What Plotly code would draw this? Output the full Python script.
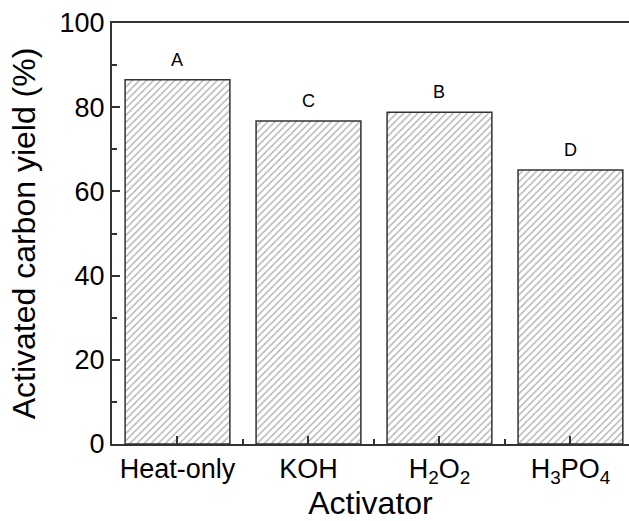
import plotly.graph_objects as go

categories = ["Heat-only", "KOH", "H<sub>2</sub>O<sub>2</sub>", "H<sub>3</sub>PO<sub>4</sub>"]
yields = [86.5, 76.7, 78.8, 65.1]
letters = ["A", "C", "B", "D"]
y_ticks = [0, 20, 40, 60, 80, 100]

xpos = list(range(len(categories)))
FONT = "Liberation Sans, Arial, Helvetica, sans-serif"

fig = go.Figure()
fig.add_trace(go.Bar(
    x=xpos, y=yields, width=0.8,
    marker=dict(
        color="white",
        line=dict(color="#333333", width=1.5),
        pattern=dict(shape="/", size=5, solidity=0.28, fgcolor="#5e5e5e", bgcolor="white"),
    ),
    showlegend=False,
))

for xi, v, t in zip(xpos, yields, letters):
    fig.add_annotation(x=xi, y=v, text=t, showarrow=False, yanchor="bottom", yshift=8,
                       font=dict(family=FONT, size=18, color="black"))

fig.update_layout(
    width=629, height=521,
    margin=dict(l=112, r=0, t=23, b=77),
    paper_bgcolor="white", plot_bgcolor="white",
    font=dict(family=FONT, color="black"),
    bargap=0.2,
)
fig.update_xaxes(
    range=[-0.5, 3.447],
    tickvals=xpos, ticktext=categories,
    ticks="inside", ticklen=8, tickwidth=1.5, tickcolor="#333333",
    minor=dict(tickvals=[-0.5, 0.5, 1.5, 2.5, 3.5], ticks="inside", ticklen=5, tickwidth=1.5, tickcolor="#333333"),
    showline=True, linecolor="#333333", linewidth=2, mirror=True,
    showgrid=False, zeroline=False,
    tickfont=dict(size=27, family=FONT, color="black"),
    title=dict(text="Activator", font=dict(size=32, family=FONT, color="black"), standoff=6),
)
fig.update_yaxes(
    range=[0, 100],
    tickvals=y_ticks,
    ticks="inside", ticklen=8, tickwidth=1.5, tickcolor="#333333",
    minor=dict(dtick=10, ticks="inside", ticklen=5, tickwidth=1.5, tickcolor="#333333"),
    showline=True, linecolor="#333333", linewidth=2, mirror=False,
    showgrid=False, zeroline=False,
    tickfont=dict(size=27, family=FONT, color="black"),
    title=dict(text="Activated carbon yield (%)", font=dict(size=32, family=FONT, color="black"), standoff=14),
)

fig.write_html("out.html")
